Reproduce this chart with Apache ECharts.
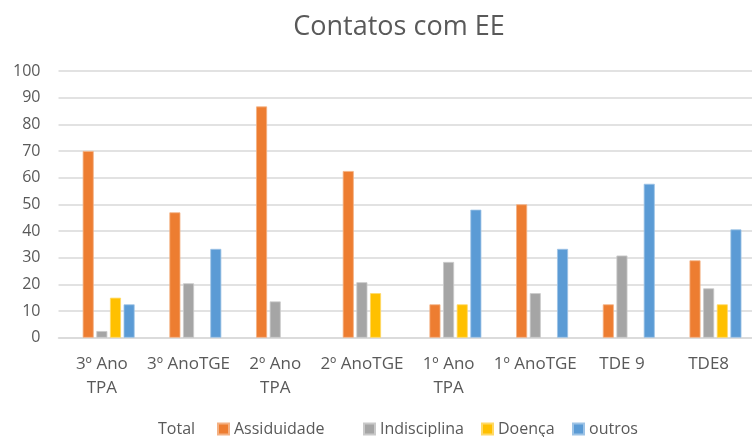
<!DOCTYPE html>
<html>
<head>
<meta charset="utf-8">
<script src="https://cdn.jsdelivr.net/npm/echarts@6/dist/echarts.min.js"></script>
<style>
  html, body { margin: 0; padding: 0; background: #ffffff; }
  #chart { width: 752px; height: 437px; }
</style>
</head>
<body>
<div id="chart"></div>
<script>
// Contacts with parents/guardians (EE) per class, by reason
const categories = ['3º Ano\nTPA', '3º AnoTGE', '2º Ano\nTPA', '2º AnoTGE', '1º Ano\nTPA', '1º AnoTGE', 'TDE 9', 'TDE8'];
const seriesNames = ['Total', 'Assiduidade', 'Indisciplina', 'Doença', 'outros'];
const total        = [null, null, null, null, null, null, null, null];
const assiduidade  = [70, 47, 86.7, 62.5, 12.5, 50, 12.5, 29];
const indisciplina = [2.5, 20.4, 13.6, 20.8, 28.4, 16.7, 30.8, 18.5];
const doenca       = [15, null, null, 16.7, 12.5, null, null, 12.5];
const outros       = [12.5, 33.3, null, null, 48, 33.3, 57.7, 40.6];
const yTicks = { min: 0, max: 100, step: 10 };

const seriesData = [total, assiduidade, indisciplina, doenca, outros];
const colors = ['transparent', '#ED7D31', '#A5A5A5', '#FFC000', '#5B9BD5'];
const edgeColors = ['transparent', '#F4B183', '#C9C9C9', '#FFD966', '#9DC3E6'];
const legendLeft = [142, 217, 363, 481, 572];

const FONT = '"Open Sans", "Noto Sans", sans-serif';
const TXT = '#595959';

const chart = echarts.init(document.getElementById('chart'), null, { renderer: 'canvas' });

chart.setOption({
  animation: false,
  backgroundColor: '#ffffff',
  title: {
    text: 'Contatos com EE',
    left: 394,
    top: 9,
    textAlign: 'center',
    textStyle: { fontFamily: FONT, fontSize: 27, fontWeight: 'normal', color: TXT }
  },
  legend: seriesNames.map((name, i) => ({
    data: [{ name: name, icon: i === 0 ? 'none' : 'rect' }],
    left: legendLeft[i],
    top: 421,
    padding: 0,
    itemWidth: 11,
    itemHeight: 11,
    selectedMode: false,
    textStyle: { fontFamily: FONT, fontSize: 16, color: TXT }
  })),
  grid: { left: 58.5, top: 71, width: 699, height: 266.7, containLabel: false },
  xAxis: {
    type: 'category',
    data: categories,
    axisTick: { show: false },
    axisLine: { lineStyle: { color: '#d9d9d9', width: 1.5 } },
    axisLabel: {
      interval: 0,
      margin: 14,
      fontFamily: FONT,
      fontSize: 17,
      lineHeight: 24,
      color: TXT
    }
  },
  yAxis: {
    type: 'value',
    min: yTicks.min,
    max: yTicks.max,
    interval: yTicks.step,
    axisLine: { show: false },
    axisTick: { show: false },
    splitLine: { lineStyle: { color: '#d9d9d9', width: 1.5 } },
    axisLabel: { margin: 18, fontFamily: FONT, fontSize: 16, color: TXT }
  },
  series: seriesNames.map((name, i) => ({
    name: name,
    type: 'bar',
    data: seriesData[i],
    barWidth: 11,
    barGap: '24%',
    itemStyle: { color: colors[i], borderColor: edgeColors[i], borderWidth: 0.8 },
    emphasis: { disabled: true }
  }))
});
</script>
</body>
</html>
